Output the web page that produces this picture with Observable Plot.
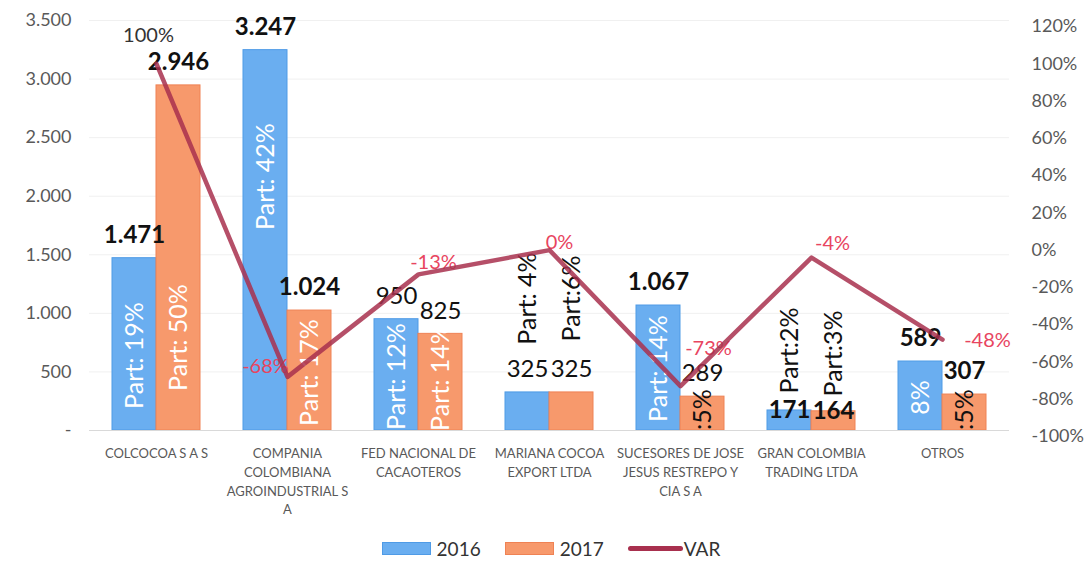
<!DOCTYPE html>
<html><head><meta charset="utf-8">
<script src="https://cdn.jsdelivr.net/npm/d3@7"></script>
<script src="https://cdn.jsdelivr.net/npm/@observablehq/plot@0.6"></script>
<style>
body{margin:0;background:#fff;font-family:Lato,"Noto Sans",sans-serif;}
#chart svg{display:block;}
#legend{display:flex;justify-content:center;align-items:center;height:37px;font-size:19px;color:#333;padding-left:12px;box-sizing:border-box;}
#legend .sw{display:inline-block;width:47px;height:11px;margin-right:6px;}
#legend .ln{display:inline-block;width:55px;height:5px;border-radius:3px;margin-right:1px;}
#legend .it{display:flex;align-items:center;margin-right:24px;}
#legend .it:last-child{margin-right:0;}
</style></head><body>
<div id="chart"></div>
<div id="legend"></div>
<script>
// ---- data ----
const categories = [
  "COLCOCOA S A S",
  "COMPANIA COLOMBIANA AGROINDUSTRIAL S A",
  "FED NACIONAL DE CACAOTEROS",
  "MARIANA COCOA EXPORT LTDA",
  "SUCESORES DE JOSE JESUS RESTREPO Y CIA S A",
  "GRAN COLOMBIA TRADING LTDA",
  "OTROS"
];
const categoryLines = [
  "COLCOCOA S A S",
  "COMPANIA\nCOLOMBIANA\nAGROINDUSTRIAL S\nA",
  "FED NACIONAL DE\nCACAOTEROS",
  "MARIANA COCOA\nEXPORT LTDA",
  "SUCESORES DE JOSE\nJESUS RESTREPO Y\nCIA S A",
  "GRAN COLOMBIA\nTRADING LTDA",
  "OTROS"
];
const values2016 = [1471, 3247, 950, 325, 1067, 171, 589];
const values2017 = [2946, 1024, 825, 325, 289, 164, 307];
const varPct = [100, -68, -13, 0, -73, -4, -48];
const part2016 = ["Part: 19%", "Part: 42%", "Part: 12%", "Part: 4%", "Part: 14%", "Part:2%", "8%"];
const part2017 = ["Part: 50%", "Part: 17%", "Part: 14%", "Part:6%", ":5%", "Part:3%", ":5%"];
const leftTicks = [0, 500, 1000, 1500, 2000, 2500, 3000, 3500];
const leftTickLabels = ["-", "500", "1.000", "1.500", "2.000", "2.500", "3.000", "3.500"];
const rightTicks = [-100, -80, -60, -40, -20, 0, 20, 40, 60, 80, 100, 120];
const rightTickLabels = ["-100%", "-80%", "-60%", "-40%", "-20%", "0%", "20%", "40%", "60%", "80%", "100%", "120%"];
const seriesNames = ["2016", "2017", "VAR"];

// ---- styling / layout ----
const C16 = "#6aaef0", C16s = "#4f9be6";
const C17 = "#f7996c", C17s = "#ef8254";
const CVAR = "#a8304e";
const CPINK = "#e8455f";
const H = 530, MT = 20, MB = 100;
const pxUnit = 3500 / (H - MT - MB);
const leftMax = 3500, rMin = -100, rMax = 120;
const rightOffsetPx = 6; // secondary axis sits slightly lower than the primary one
const toY = p => (p - rMin) / (rMax - rMin) * leftMax - rightOffsetPx * pxUnit;

const partCol2016 = ["#fff", "#fff", "#fff", "#111", "#fff", "#111", "#fff"];
const partCol2017 = ["#fff", "#fff", "#fff", "#111", "#111", "#111", "#111"];
const partPx2016 = [75, 254, 54, 132, 62, 80, 33];   // label centre, px above baseline
const partPx2017 = [93, 58, 53, 132, 21, 77, 21];
const valDy2016 = [-23, -23, -23, -23, -23, 0, -23];
const valDy2017 = [-23, -23, -23, -23, -23, 0, -23];
const valW2016 = [700, 700, 400, 400, 700, 700, 700];
const valW2017 = [700, 700, 400, 400, 400, 700, 700];
const varDx = [-8, -22, 15, 10, 28, 21, 45];
const varDy = [-28, -10, -12, -8, -38, -14, 1];
const varCol = ["#333", CPINK, CPINK, CPINK, CPINK, CPINK, CPINK];

const fmt = d3.formatLocale({thousands: ".", grouping: [3], decimal: ","}).format(",d");
const rows = categories.map((c, i) => ({cat: c, v16: values2016[i], v17: values2017[i], var: varPct[i]}));

const partMarks = [];
const valueMarks = [];
const varMarks = [];
categories.forEach((c, i) => {
  [[part2016, partCol2016, partPx2016, -22], [part2017, partCol2017, partPx2017, 22]].forEach(([txt, col, px, dx]) => {
    partMarks.push(Plot.text([txt[i]], {
      x: () => c, y: () => px[i] * pxUnit, text: d => d, rotate: -90, dx,
      fill: col[i], fontSize: 25, textAnchor: "middle", lineAnchor: "middle"
    }));
  });
  [[values2016, valDy2016, valW2016, -22], [values2017, valDy2017, valW2017, 22]].forEach(([vals, dys, ws, dx]) => {
    valueMarks.push(Plot.text([vals[i]], {
      x: () => c, y: d => d, text: d => fmt(d), dx, dy: dys[i],
      fill: "#111", fontSize: 24, fontWeight: ws[i], lineAnchor: "middle"
    }));
  });
  varMarks.push(Plot.text([varPct[i]], {
    x: () => c, y: d => toY(d), text: d => d + "%", dx: varDx[i], dy: varDy[i],
    fill: varCol[i], fontSize: 20, lineAnchor: "middle"
  }));
});

const chart = Plot.plot({
  width: 1090, height: H,
  marginLeft: 89, marginRight: 81, marginTop: MT, marginBottom: MB,
  style: {fontFamily: "Lato, 'Noto Sans', sans-serif", background: "#fff", overflow: "visible"},
  x: {domain: categories, paddingInner: 0.33, paddingOuter: 0.165, label: null},
  y: {domain: [0, leftMax], label: null},
  marks: [
    Plot.ruleY(leftTicks.slice(1), {stroke: "#f0f0f0"}),
    Plot.axisY(leftTicks, {anchor: "left", tickSize: 0, tickPadding: 18, fontSize: 18, fill: "#595959",
      tickFormat: d => leftTickLabels[leftTicks.indexOf(d)], label: null}),
    Plot.axisY(rightTicks.map(toY), {anchor: "right", tickSize: 0, tickPadding: 22, fontSize: 18, fill: "#595959",
      tickFormat: d => rightTickLabels[rightTicks.findIndex(t => Math.abs(toY(t) - d) < 1e-6)], label: null}),
    Plot.axisX({tickSize: 0, tickPadding: 14, fontSize: 13, lineHeight: 1.45, fill: "#595959",
      tickFormat: d => categoryLines[categories.indexOf(d)], label: null}),
    Plot.barY(rows, {x: "cat", y: "v16", insetRight: 44, fill: C16, stroke: C16s, strokeWidth: 1}),
    Plot.barY(rows, {x: "cat", y: "v17", insetLeft: 44, fill: C17, stroke: C17s, strokeWidth: 1}),
    Plot.ruleY([0], {stroke: "#d9d9d9"}),
    ...varMarks,
    ...partMarks,
    ...valueMarks,
    Plot.line(rows, {x: "cat", y: d => toY(d.var), stroke: CVAR, strokeWidth: 4.5, strokeOpacity: 0.85,
      strokeLinejoin: "round", strokeLinecap: "round"})
  ]
});
document.getElementById("chart").appendChild(chart);

const legend = document.getElementById("legend");
const items = [
  {name: seriesNames[0], html: `<span class="sw" style="background:${C16};border:1px solid ${C16s}"></span>`},
  {name: seriesNames[1], html: `<span class="sw" style="background:${C17};border:1px solid ${C17s}"></span>`},
  {name: seriesNames[2], html: `<span class="ln" style="background:${CVAR}"></span>`}
];
legend.innerHTML = items.map(d => `<span class="it">${d.html}<span>${d.name}</span></span>`).join("");
</script>
</body></html>
